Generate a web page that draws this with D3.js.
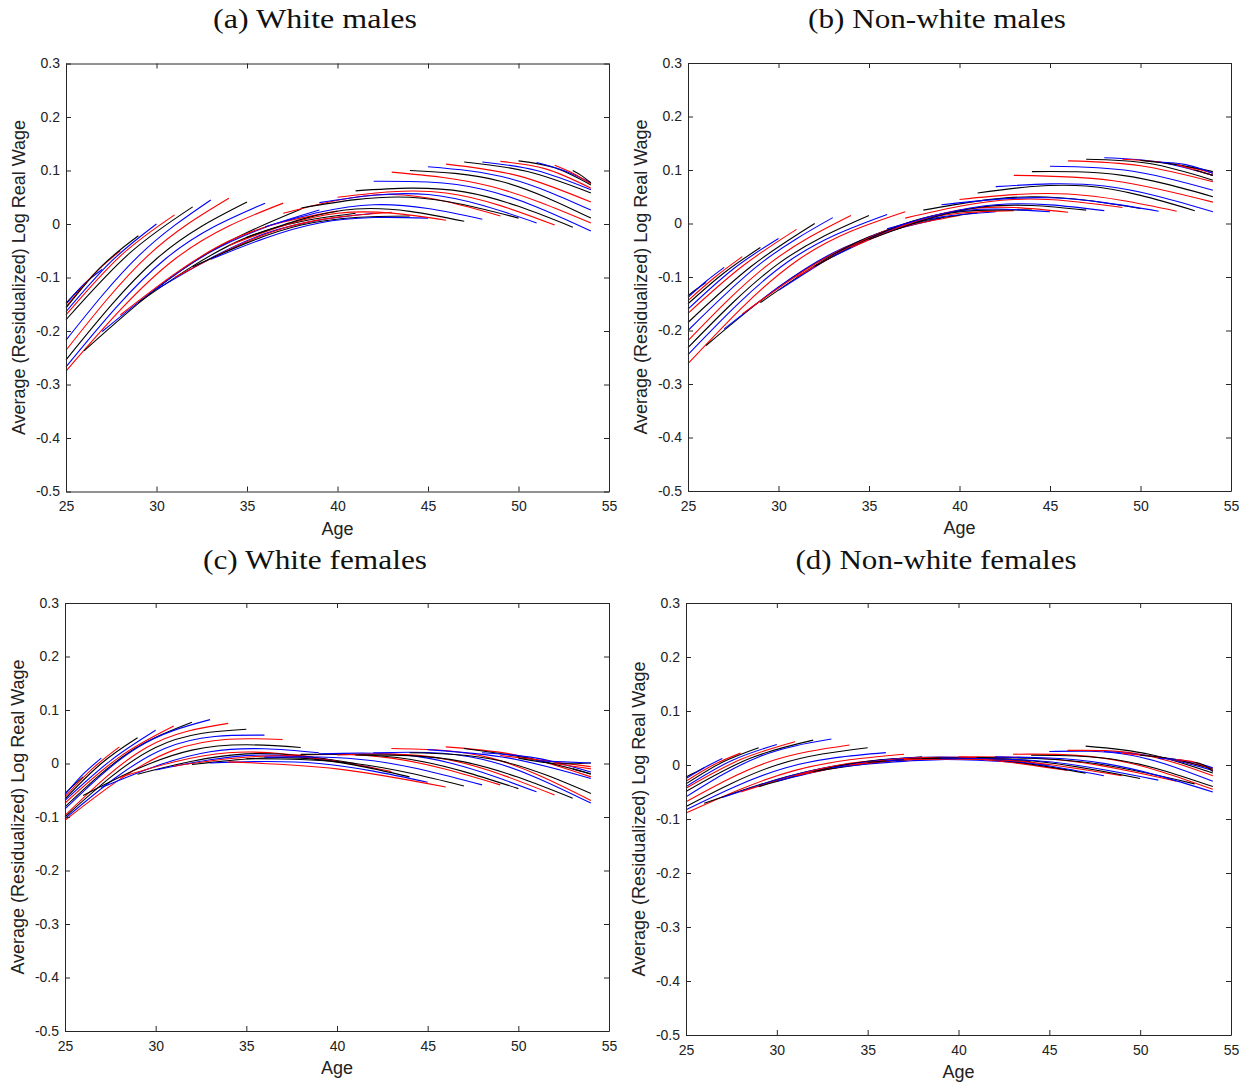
<!DOCTYPE html>
<html><head><meta charset="utf-8">
<script src="https://cdn.jsdelivr.net/npm/d3@7"></script>
<style>body{margin:0;background:#fff}svg{display:block}</style>
</head><body>
<svg id="chart" width="1250" height="1082"></svg>
<script>
// Cohort index = age at the start of the 12-year observation window
const cohorts = [14,15,16,17,18,19,20,21,22,23,24,25,26,27,28,29,30,31,32,33,34,35,36,37,38,39,40,41,42,43,44,45,46,47,48,49,50,51,52,53];
const windowYears = 12;
const ageMin = 25, ageMax = 54;
const ageTicks = [25,30,35,40,45,50,55];
const valueTicks = [-0.5,-0.4,-0.3,-0.2,-0.1,0,0.1,0.2,0.3];
const panelTitles = ["(a) White males","(b) Non-white males","(c) White females","(d) Non-white females"];
const xTitle = "Age";
const yTitle = "Average (Residualized) Log Real Wage";
const seriesNames = ["blue","red","black"]; // cohort mod 3

// each row: [value at first age, value at middle age, value at last age]
const whiteMales = [
 [-0.148,-0.130,-0.115],[-0.150,-0.112,-0.085],[-0.155,-0.095,-0.050],[-0.157,-0.078,-0.022],
 [-0.164,-0.070,0.000],[-0.170,-0.060,0.017],[-0.179,-0.055,0.032],[-0.217,-0.060,0.045],
 [-0.236,-0.060,0.048],[-0.254,-0.065,0.041],[-0.267,-0.065,0.039],[-0.275,-0.066,0.039],
 [-0.237,-0.072,0.028],[-0.201,-0.052,0.026],[-0.170,-0.032,0.024],[-0.147,-0.025,0.020],
 [-0.122,-0.018,0.020],[-0.100,-0.008,0.022],[-0.080,-0.002,0.015],[-0.066,0.002,0.011],
 [-0.040,0.020,0.007],[-0.025,0.028,0.005],[-0.005,0.036,0.009],[0.020,0.055,0.015],
 [0.030,0.050,0.011],[0.040,0.055,0.002],[0.050,0.058,-0.002],[0.062,0.060,-0.006],
 [0.080,0.065,-0.013],[0.097,0.070,0.002],[0.100,0.080,0.011],[0.107,0.085,0.026],
 [0.112,0.090,0.041],[0.116,0.098,0.058],[0.116,0.100,0.064],[0.117,0.103,0.067],
 [0.118,0.105,0.073],[0.115,0.100,0.077],[0.110,0.095,0.075],[0.100,0.090,0.077]
];
const nonWhiteMales = [
 [-0.135,-0.122,-0.110],[-0.138,-0.108,-0.082],[-0.144,-0.100,-0.062],[-0.150,-0.092,-0.045],
 [-0.160,-0.085,-0.028],[-0.168,-0.080,-0.011],[-0.185,-0.080,0.000],[-0.200,-0.075,0.011],
 [-0.219,-0.075,0.015],[-0.232,-0.075,0.015],[-0.245,-0.072,0.017],[-0.262,-0.070,0.022],
 [-0.228,-0.075,0.005],[-0.197,-0.055,0.010],[-0.169,-0.040,0.015],[-0.148,-0.025,0.020],
 [-0.125,-0.012,0.022],[-0.100,0.000,0.024],[-0.080,0.010,0.025],[-0.062,0.018,0.022],
 [-0.045,0.025,0.021],[-0.030,0.030,0.025],[-0.010,0.035,0.024],[0.010,0.045,0.030],
 [0.025,0.050,0.028],[0.035,0.048,0.023],[0.045,0.055,0.023],[0.057,0.070,0.024],
 [0.069,0.070,0.022],[0.090,0.080,0.040],[0.097,0.090,0.050],[0.107,0.098,0.062],
 [0.117,0.108,0.078],[0.120,0.112,0.081],[0.123,0.115,0.090],[0.120,0.113,0.094],
 [0.118,0.110,0.097],[0.115,0.110,0.094],[0.110,0.100,0.090],[0.100,0.095,0.090]
];
const whiteFemales = [
 [-0.056,-0.040,-0.025],[-0.058,-0.020,0.010],[-0.062,-0.010,0.031],[-0.066,0.000,0.048],
 [-0.069,0.005,0.062],[-0.074,0.012,0.070],[-0.081,0.020,0.077],[-0.085,0.030,0.082],
 [-0.097,0.030,0.075],[-0.100,0.030,0.064],[-0.103,0.028,0.053],[-0.106,0.025,0.045],
 [-0.060,0.025,0.030],[-0.045,0.022,0.020],[-0.026,0.020,0.005],[-0.020,0.018,0.000],
 [-0.012,0.016,-0.008],[-0.005,0.014,-0.015],[-0.002,0.010,-0.025],[0.001,0.000,-0.035],
 [0.003,-0.010,-0.044],[0.009,0.000,-0.042],[0.012,0.005,-0.040],[0.015,0.010,-0.040],
 [0.017,0.008,-0.047],[0.018,0.010,-0.053],[0.016,0.008,-0.059],[0.016,0.003,-0.065],
 [0.020,0.008,-0.074],[0.028,0.010,-0.069],[0.020,0.005,-0.056],[0.026,0.010,-0.028],
 [0.031,0.015,-0.025],[0.028,0.010,-0.019],[0.020,0.010,-0.016],[0.015,0.005,-0.006],
 [0.010,0.000,0.001],[0.005,0.003,0.001],[0.000,-0.005,-0.010],[-0.010,-0.015,-0.020]
];
const nonWhiteFemales = [
 [-0.022,-0.014,-0.005],[-0.025,-0.005,0.012],[-0.030,0.000,0.022],[-0.035,0.005,0.032],
 [-0.040,0.008,0.038],[-0.043,0.010,0.043],[-0.049,0.012,0.046],[-0.059,0.015,0.048],
 [-0.068,0.005,0.037],[-0.077,0.000,0.032],[-0.083,-0.005,0.023],[-0.089,-0.010,0.020],
 [-0.071,-0.010,0.015],[-0.060,-0.003,0.012],[-0.050,0.003,0.012],[-0.040,0.007,0.013],
 [-0.030,0.010,0.012],[-0.020,0.012,0.010],[-0.012,0.012,0.006],[-0.005,0.010,0.000],
 [0.000,0.012,-0.010],[0.005,0.012,-0.015],[0.008,0.010,-0.020],[0.010,0.008,-0.020],
 [0.012,0.008,-0.025],[0.013,0.006,-0.028],[0.015,0.008,-0.030],[0.014,0.005,-0.035],
 [0.015,0.003,-0.050],[0.020,0.010,-0.045],[0.018,0.008,-0.040],[0.025,0.018,-0.030],
 [0.027,0.020,-0.020],[0.035,0.020,-0.015],[0.025,0.015,-0.010],[0.022,0.012,-0.006],
 [0.018,0.010,-0.008],[0.012,0.008,-0.005],[0.010,0.005,-0.010],[0.005,0.000,-0.012]
];
const panelData = [whiteMales, nonWhiteMales, whiteFemales, nonWhiteFemales];

const layout = [
 {l:66, r:609, t:63.5, b:491.5, tx:315, ty:28, tw:204, yl:20},
 {l:688, r:1231, t:63, b:491, tx:937, ty:28, tw:258, yl:642},
 {l:65, r:609, t:603, b:1031, tx:315, ty:569, tw:224, yl:19},
 {l:686, r:1231, t:603, b:1035, tx:936, ty:569, tw:281, yl:640}
];
const colour = d3.scaleOrdinal().domain(seriesNames).range(["#0000ff","#ff0000","#000000"]);
const axisCol = "#262626";
const svg = d3.select("#chart");
const sans = "'Liberation Sans', Arial, Helvetica, sans-serif";

layout.forEach((L, pi) => {
  const x = d3.scaleLinear().domain([25,55]).range([L.l, L.r]);
  const y = d3.scaleLinear().domain([-0.5,0.3]).range([L.b, L.t]);
  const g = svg.append("g");

  const line = d3.line().x(d => x(d[0])).y(d => y(d[1])).curve(d3.curveNatural);
  panelData[pi].forEach((vals, i) => {
    const c = cohorts[i];
    const a0 = Math.max(ageMin, c), a1 = Math.min(ageMax, c + windowYears);
    const pts = [[a0, vals[0]], [(a0 + a1) / 2, vals[1]], [a1, vals[2]]];
    g.append("path").attr("d", line(pts)).attr("fill", "none")
      .attr("stroke", colour(seriesNames[c % 3])).attr("stroke-width", 1.1);
  });

  const fmt = v => (Math.abs(v) < 1e-9 ? "0" : d3.format(".1f")(v)).replace("−","-");
  const bottom = g.append("g").attr("transform", `translate(0,${L.b})`)
    .call(d3.axisBottom(x).tickValues(ageTicks).tickSizeInner(-5).tickSizeOuter(0).tickPadding(10).tickFormat(d3.format("d")));
  const top = g.append("g").attr("transform", `translate(0,${L.t})`)
    .call(d3.axisTop(x).tickValues(ageTicks).tickSizeInner(-5).tickSizeOuter(0).tickFormat(""));
  const left = g.append("g").attr("transform", `translate(${L.l},0)`)
    .call(d3.axisLeft(y).tickValues(valueTicks).tickSizeInner(-5).tickSizeOuter(0).tickPadding(6).tickFormat(fmt));
  const right = g.append("g").attr("transform", `translate(${L.r},0)`)
    .call(d3.axisRight(y).tickValues(valueTicks).tickSizeInner(-5).tickSizeOuter(0).tickFormat(""));
  [bottom, top, left, right].forEach(a => {
    a.select(".domain").attr("stroke", axisCol).attr("stroke-width", 1);
    a.selectAll(".tick line").attr("stroke", axisCol);
    a.selectAll("text").attr("fill", "#222").style("font-family", sans).style("font-size", "14px");
  });

  g.append("text").attr("x", L.tx).attr("y", L.ty).attr("text-anchor", "middle")
    .attr("textLength", L.tw).attr("lengthAdjust", "spacingAndGlyphs")
    .style("font-family", "'Liberation Serif','DejaVu Serif',serif")
    .style("font-size", "27px").attr("fill", "#111").text(panelTitles[pi]);
  g.append("text").attr("x", (L.l + L.r) / 2).attr("y", L.b + 43).attr("text-anchor", "middle")
    .style("font-family", sans).style("font-size", "18px").attr("fill", "#222").text(xTitle);
  g.append("text").attr("transform", `translate(${L.yl + 5},${(L.t + L.b) / 2}) rotate(-90)`)
    .attr("text-anchor", "middle").style("font-family", sans).style("font-size", "18px")
    .attr("fill", "#222").text(yTitle);
});
</script>
</body></html>
